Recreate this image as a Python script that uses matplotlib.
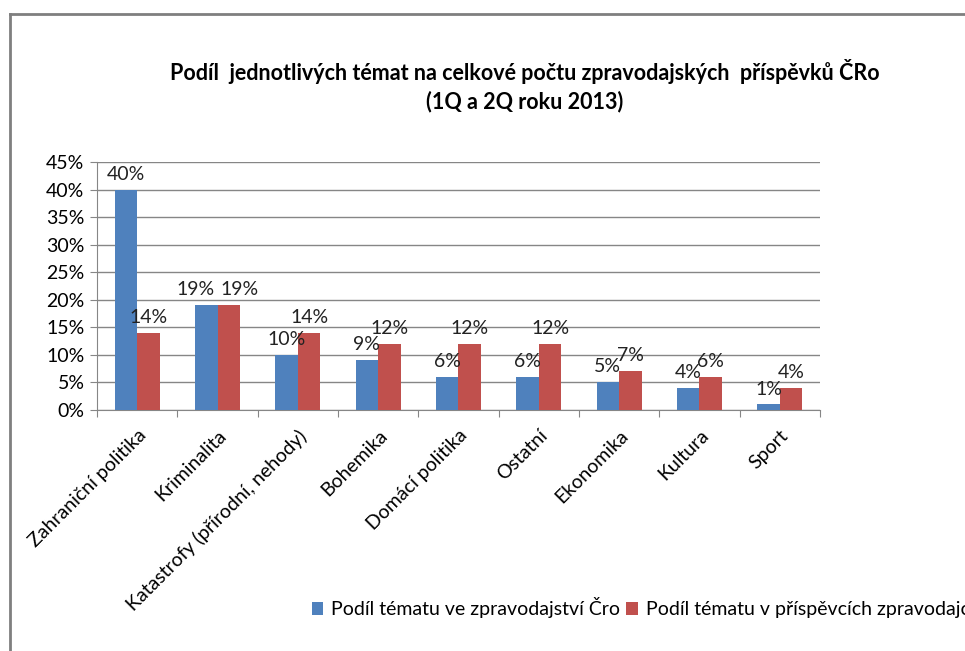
import matplotlib.pyplot as plt
import matplotlib.lines as mlines
import numpy as np

categories = ["Zahraniční politika", "Kriminalita", "Katastrofy (přírodní, nehody)",
              "Bohemika", "Domácí politika", "Ostatní", "Ekonomika", "Kultura", "Sport"]
cro_share = [40, 19, 10, 9, 6, 6, 5, 4, 1]
reporter_share = [14, 19, 14, 12, 12, 12, 7, 6, 4]
series_names = ["Podíl tématu ve zpravodajství Čro",
                "Podíl tématu v příspěvcích zpravodajců"]
yticks = [0, 5, 10, 15, 20, 25, 30, 35, 40, 45]

blue = '#4f81bd'
red = '#c0504d'
grid = '#868686'

plt.rcParams['font.family'] = ['Lato', 'DejaVu Sans']

fig = plt.figure(figsize=(9.65, 6.51), dpi=100)
W, H = 965.0, 651.0

# outer chart border (gray), cut off at right and bottom
fig.add_artist(mlines.Line2D([10 / W, 10 / W], [0, 1 - 14 / H], color='#7f7f7f', lw=2))
fig.add_artist(mlines.Line2D([10 / W, 1], [1 - 14 / H, 1 - 14 / H], color='#7f7f7f', lw=2))

ax = fig.add_axes([97 / W, 1 - 410 / H, (820 - 97) / W, (410 - 162) / H])

x = np.arange(len(categories))
bw = 0.28
b1 = ax.bar(x - bw / 2, cro_share, bw, color=blue, label=series_names[0], zorder=3)
b2 = ax.bar(x + bw / 2, reporter_share, bw, color=red, label=series_names[1], zorder=3)

# data labels; pull apart the pair when both bars have the same height
for i in range(len(categories)):
    same = cro_share[i] == reporter_share[i]
    for bars, vals, side in ((b1, cro_share, -1), (b2, reporter_share, 1)):
        r = bars[i]
        dx = side * 8 if same else 0
        ax.annotate(f"{vals[i]}%", (r.get_x() + r.get_width() / 2, vals[i]),
                    xytext=(dx, 5), textcoords='offset points', ha='center',
                    va='bottom', fontsize=14, color='#222222')

ax.set_xlim(-0.5, len(categories) - 0.5)
ax.set_ylim(0, 45)
ax.set_yticks(yticks)
ax.set_yticklabels([f"{t}%" for t in yticks], fontsize=14)
ax.yaxis.grid(True, color=grid, lw=1, zorder=0)

# category boundary ticks
ax.set_xticks(np.arange(len(categories) + 1) - 0.5)
ax.set_xticklabels([])
ax.set_xticks(x, minor=True)
ax.set_xticklabels(categories, minor=True, rotation=45, ha='right',
                   rotation_mode='anchor', fontsize=14)
ax.tick_params(axis='x', which='minor', length=0, pad=12)
ax.tick_params(axis='x', which='major', length=5, color=grid)
ax.tick_params(axis='y', length=5, color=grid, pad=4)

for s in ('top', 'right'):
    ax.spines[s].set_visible(False)
ax.spines['left'].set_color(grid)
ax.spines['bottom'].set_color(grid)

fig.text(525 / W, 1 - 72 / H,
         "Podíl  jednotlivých témat na celkové počtu zpravodajských  příspěvků ČRo",
         ha='center', va='center', fontsize=15.5, fontweight='bold')
fig.text(525 / W, 1 - 102 / H, "(1Q a 2Q roku 2013)",
         ha='center', va='center', fontsize=15.5, fontweight='bold')

fig.legend(loc='center left', bbox_to_anchor=(304 / W, 1 - 608 / H), ncol=2,
           frameon=False, fontsize=14, handlelength=0.6, handleheight=0.6,
           handletextpad=0.4, columnspacing=0.3, borderaxespad=0)

fig.savefig('out.png', dpi=100)
